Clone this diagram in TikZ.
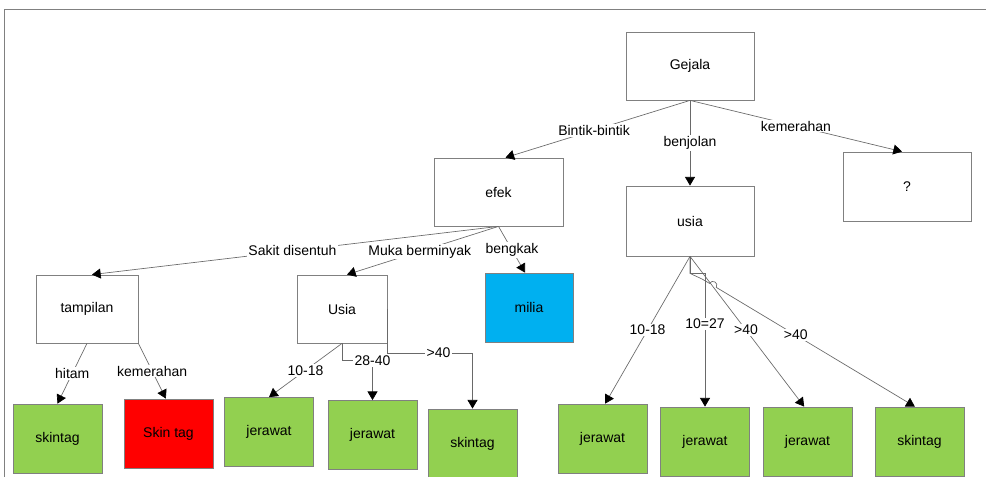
\documentclass[tikz,border=0pt]{standalone}
\usepackage{fontspec}
\setmainfont{Liberation Sans}
\usetikzlibrary{arrows.meta,calc}
\definecolor{boxgray}{RGB}{128,128,128}
\definecolor{linegray}{RGB}{105,105,105}
\definecolor{leafgreen}{RGB}{146,208,80}
\definecolor{skyblue}{RGB}{0,176,240}
\definecolor{redbox}{RGB}{255,0,0}
\begin{document}
\begin{tikzpicture}[x=0.75pt,y=-0.75pt,
  txt/.style={font=\fontsize{10.5}{12}\selectfont},
  box/.style={txt, draw=boxgray, line width=0.6pt, inner sep=0pt, minimum width=96pt, minimum height=51pt},
  leaf/.style={box, fill=leafgreen, minimum width=66.75pt, minimum height=51.75pt},
  arr/.style={draw=linegray, line width=0.5pt, -{Triangle[length=6.5pt,width=7.5pt,color=black]}},
  lbl/.style={txt, fill=white, inner sep=1pt}
]
\useasboundingbox (0,0) rectangle (986,477);
\fill[white] (0,0) rectangle (986,477);
\draw[boxgray, line width=0.6pt] (4,477) -- (4,9) -- (986,9);

% nodes
\node[box] (gejala) at (690,66) {Gejala};
\node[box, minimum width=96.75pt] (efek) at (498.5,192) {efek};
\node[box, minimum height=51.75pt] (q) at (907,186.5) {?};
\node[box, minimum height=52.5pt] (usiaR) at (690,221) {usia};
\node[box, minimum width=76.5pt] (tampilan) at (87,309) {tampilan};
\node[box, minimum width=67.5pt] (usiaM) at (342,309) {Usia};
\node[box, fill=skyblue, minimum width=66pt, minimum height=51.75pt] (milia) at (529,307.5) {milia};

\node[leaf] (s1) at (57.5,438.5) {skintag};
\node[leaf, fill=redbox] (s2) at (168.5,433.5) {Skin tag};
\node[leaf] (j1) at (269,432) {jerawat};
\node[leaf] (j2) at (372.5,435) {jerawat};
\node[leaf] (s3) at (472.5,443.5) {skintag};
\node[leaf] (j3) at (602.5,438.5) {jerawat};
\node[leaf] (j4) at (705,441.5) {jerawat};
\node[leaf] (j5) at (807.5,441.5) {jerawat};
\node[leaf] (s4) at (919.5,441.5) {skintag};

% level 1
\draw[arr] (gejala.south) -- node[lbl,pos=0.52]{Bintik-bintik} ([xshift=5.25pt]efek.north);
\draw[arr] (gejala.south) -- node[lbl,pos=0.5]{benjolan} (usiaR.north);
\draw[arr] (gejala.south) -- node[lbl,pos=0.5]{kemerahan} ([xshift=-3.75pt]q.north);

% efek
\draw[arr] (efek.south) -- node[lbl,pos=0.507]{Sakit disentuh} ([xshift=3.75pt]tampilan.north);
\draw[arr] (efek.south) -- node[lbl,pos=0.52]{Muka berminyak} ([xshift=3.75pt]usiaM.north);
\draw[arr] (efek.south) -- node[lbl,pos=0.51]{bengkak} ([xshift=-3pt]milia.north);

% tampilan
\draw[arr] (tampilan.south) -- node[lbl,pos=0.5]{hitam} (s1.north);
\draw[arr] (tampilan.south east) -- node[lbl,pos=0.5]{kemerahan} ([xshift=-2pt]s2.north);

% Usia (middle)
\draw[arr] (usiaM.south) -- node[lbl,pos=0.5]{10-18} (j1.north);
\draw[arr] (usiaM.south) -- ++(0,17) -| node[lbl,pos=0.5]{28-40} (j2.north);
\draw[arr] (usiaM.east) -- ++(0,44) -| node[lbl,pos=0.3]{>40} (s3.north);

% usia (right)
\draw[arr] (usiaR.south) -- node[lbl,pos=0.5]{10-18} ([xshift=2pt]j3.north);
\draw[arr] (usiaR.south) -- ++(0,17) -| node[lbl,pos=0.69]{10=27} (j4.north);
\draw[arr] (usiaR.south) -- node[lbl,pos=0.49]{>40} ([xshift=-2.5pt]j5.north);
\coordinate (b1) at (702,279);
\coordinate (h1) at (709.5,283.4);
\coordinate (h2) at (716.3,287.4);
\draw[arr] (usiaR.south) -- ++(0,17) -- (b1) -- (h1)
  .. controls (712.2,278.8) and (719,282.8) .. (h2)
  -- node[lbl,pos=0.4]{>40} ([xshift=-3.5pt]s4.north);
\end{tikzpicture}
\end{document}
